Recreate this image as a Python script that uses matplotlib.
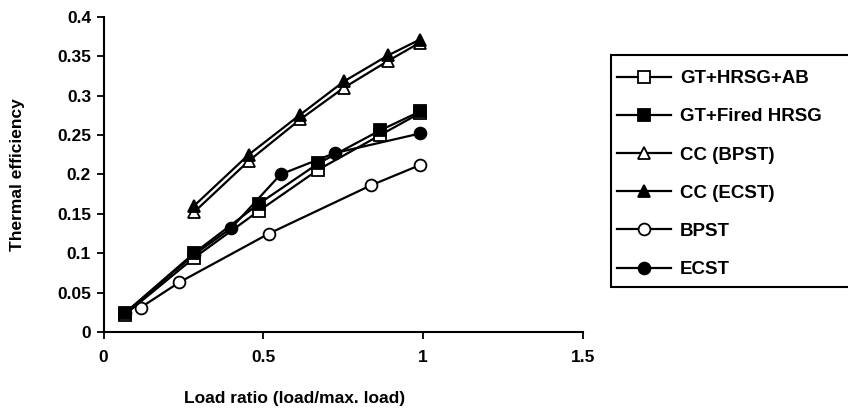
import matplotlib
matplotlib.use("Agg")
import matplotlib.pyplot as plt
from matplotlib.patches import Rectangle

plt.rcParams['font.family'] = ['Liberation Sans', 'DejaVu Sans']
plt.rcParams['font.weight'] = 'bold'

# Data
gt_hrsg_ab_x = [0.067, 0.283, 0.487, 0.672, 0.866, 0.991]
gt_hrsg_ab_y = [0.022, 0.094, 0.154, 0.206, 0.250, 0.278]

gt_fired_x = [0.067, 0.283, 0.487, 0.672, 0.866, 0.991]
gt_fired_y = [0.024, 0.100, 0.163, 0.214, 0.256, 0.280]

cc_bpst_x = [0.283, 0.454, 0.616, 0.752, 0.890, 0.989]
cc_bpst_y = [0.152, 0.217, 0.270, 0.310, 0.344, 0.367]

cc_ecst_x = [0.283, 0.454, 0.616, 0.752, 0.890, 0.989]
cc_ecst_y = [0.160, 0.225, 0.276, 0.318, 0.351, 0.371]

bpst_x = [0.116, 0.237, 0.518, 0.836, 0.991]
bpst_y = [0.031, 0.063, 0.125, 0.186, 0.212]

ecst_x = [0.067, 0.283, 0.400, 0.554, 0.723, 0.991]
ecst_y = [0.024, 0.098, 0.132, 0.200, 0.227, 0.252]

labels = ["GT+HRSG+AB", "GT+Fired HRSG", "CC (BPST)", "CC (ECST)", "BPST", "ECST"]
x_ticks = [0, 0.5, 1, 1.5]
x_tick_labels = ['0', '0.5', '1', '1.5']
y_ticks = [0, 0.05, 0.1, 0.15, 0.2, 0.25, 0.3, 0.35, 0.4]
y_tick_labels = ['0', '0.05', '0.1', '0.15', '0.2', '0.25', '0.3', '0.35', '0.4']

W, H = 848, 418
fig = plt.figure(figsize=(W/100, H/100), dpi=100)
ax = fig.add_axes([103.5/W, 1-332/H, (583-103.5)/W, (332-16.8)/H])

lw = 1.6
common = dict(color='black', linewidth=lw, markeredgecolor='black', markeredgewidth=1.3)
ax.plot(bpst_x, bpst_y, marker='o', markersize=8.5, markerfacecolor='white', label=labels[4], zorder=3, **common)
ax.plot(ecst_x, ecst_y, marker='o', markersize=8.5, markerfacecolor='black', label=labels[5], zorder=3, **common)
ax.plot(gt_hrsg_ab_x, gt_hrsg_ab_y, marker='s', markersize=9, markerfacecolor='white', label=labels[0], zorder=4, **common)
ax.plot(gt_fired_x, gt_fired_y, marker='s', markersize=9, markerfacecolor='black', label=labels[1], zorder=5, **common)
ax.plot(cc_bpst_x, cc_bpst_y, marker='^', markersize=9, markerfacecolor='white', label=labels[2], zorder=4, **common)
ax.plot(cc_ecst_x, cc_ecst_y, marker='^', markersize=9, markerfacecolor='black', label=labels[3], zorder=5, **common)

ax.set_xlim(0, 1.5)
ax.set_ylim(0, 0.4)
ax.set_xticks(x_ticks)
ax.set_xticklabels(x_tick_labels)
ax.set_yticks(y_ticks)
ax.set_yticklabels(y_tick_labels)
ax.tick_params(axis='both', direction='out', length=5, width=1.3, labelsize=12.5, colors='black')
ax.tick_params(axis='x', pad=8)
ax.tick_params(axis='y', pad=4)
for lab in ax.get_xticklabels() + ax.get_yticklabels():
    lab.set_fontweight('bold')
for s in ['top', 'right']:
    ax.spines[s].set_visible(False)
for s in ['left', 'bottom']:
    ax.spines[s].set_linewidth(1.5)

fig.text(18/W, 1-175/H, 'Thermal efficiency', rotation=90, ha='center', va='center',
         fontsize=12.5, fontweight='bold')
fig.text(295/W, 1-398/H, 'Load ratio (load/max. load)', ha='center', va='center',
         fontsize=12.5, fontweight='bold')

# legend frame (extends past right edge, as in reference)
fig.patches.append(Rectangle((611/W, 1-287/H), 260/W, (287-55)/H, transform=fig.transFigure,
                             facecolor='white', edgecolor='black', linewidth=1.5, zorder=1))

handles, labs = ax.get_legend_handles_labels()
order = [labs.index(l) for l in labels]
leg = fig.legend([handles[i] for i in order], [labs[i] for i in order],
                 loc='upper left', bbox_to_anchor=(617/W, 1-70/H),
                 frameon=False, prop={'size': 13.5, 'weight': 'bold'}, handlelength=2.9,
                 labelspacing=1.125, borderpad=0.0, handletextpad=0.45, borderaxespad=0)
leg.set_zorder(2)

fig.savefig('out.png', dpi=100)
